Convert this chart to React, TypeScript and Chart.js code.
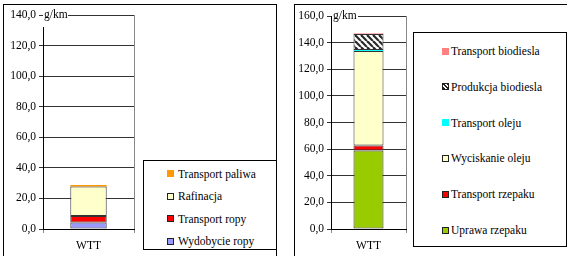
import React, { useEffect, useRef } from 'react';
import { Chart, registerables } from 'chart.js';

Chart.register(...registerables);

// ---------- data ----------
const categories = ['WTT'];
const unitLabel = 'g/km';

// left chart (olej napędowy)
const leftSeriesLabels = ['Wydobycie ropy', 'Transport ropy', 'Rafinacja', 'Transport paliwa'];
const wydobycieRopy = [4.3];
const transportRopy = [4.2];
const rafinacja = [19.3];
const transportPaliwa = [1.0];
const leftYMax = 140;
const leftYStep = 20;

// right chart (biodiesel)
const rightSeriesLabels = [
  'Uprawa rzepaku',
  'Transport rzepaku',
  'Wyciskanie oleju',
  'Transport oleju',
  'Produkcja biodiesla',
  'Transport biodiesla',
];
const uprawaRzepaku = [59.0];
const transportRzepaku = [3.7];
const wyciskanieOleju = [71.0];
const transportOleju = [0.7];
const produkcjaBiodiesla = [12.0];
const transportBiodiesla = [0.5];
const rightYMax = 160;
const rightYStep = 20;

// ---------- styles ----------
const FONT = "'Liberation Serif', 'Times New Roman', Times, 'DejaVu Serif', serif";
type SeriesStyle = { color: string; outlined: boolean; hatch?: boolean };

const leftStyles: SeriesStyle[] = [
  { color: '#9999FF', outlined: true },
  { color: '#FF0000', outlined: true },
  { color: '#FFFFCC', outlined: true },
  { color: '#FF9900', outlined: false },
];
const rightStyles: SeriesStyle[] = [
  { color: '#99CC00', outlined: true },
  { color: '#FF0000', outlined: true },
  { color: '#FFFFCC', outlined: true },
  { color: '#00FFFF', outlined: false },
  { color: '#333333', outlined: true, hatch: true },
  { color: '#FF8080', outlined: false },
];

function makeHatch(): CanvasPattern | string {
  const c = document.createElement('canvas');
  c.width = 6;
  c.height = 6;
  const g = c.getContext('2d');
  if (!g) return '#888';
  g.fillStyle = '#fff';
  g.fillRect(0, 0, 6, 6);
  g.strokeStyle = '#2a2a2a';
  g.lineWidth = 2.2;
  for (let k = -1; k <= 1; k++) {
    g.beginPath();
    g.moveTo(k * 6, 0);
    g.lineTo(k * 6 + 6, 6);
    g.stroke();
  }
  return g.createPattern(c, 'repeat') || '#888';
}

type PanelProps = {
  labels: string[];
  values: number[][];
  styles: SeriesStyle[];
  yMax: number;
  yStep: number;
  yAxisWidth: number;
  padRight: number;
  padTop: number;
  unitBox: { dx: number; w: number; h: number; tx: number };
  width: number;
  height: number;
  left: number;
  top: number;
};

function StackPanel(p: PanelProps) {
  const ref = useRef<HTMLCanvasElement | null>(null);
  useEffect(() => {
    if (!ref.current) return;
    const hatch = makeHatch();
    const unitPlugin = {
      id: 'unitLabel',
      afterDraw(chart: any) {
        const { ctx, chartArea } = chart;
        ctx.save();
        ctx.fillStyle = '#fff';
        ctx.fillRect(chartArea.left + p.unitBox.dx, chartArea.top - 6, p.unitBox.w, p.unitBox.h);
        ctx.fillStyle = '#000';
        ctx.font = '11.5px ' + FONT;
        ctx.textBaseline = 'middle';
        ctx.textAlign = 'left';
        ctx.fillText(unitLabel, chartArea.left + p.unitBox.tx, chartArea.top);
        ctx.restore();
      },
    };
    const chart = new Chart(ref.current, {
      type: 'bar',
      data: {
        labels: categories,
        datasets: p.labels.map((label, i) => ({
          label,
          data: p.values[i],
          backgroundColor: p.styles[i].hatch ? (hatch as any) : p.styles[i].color,
          borderColor: '#333',
          borderWidth: p.styles[i].outlined ? 1 : 0,
          borderSkipped: false,
          barPercentage: 0.4,
          categoryPercentage: 1,
        })),
      },
      options: {
        responsive: false,
        maintainAspectRatio: false,
        animation: false,
        events: [],
        layout: { padding: { left: 0, right: p.padRight, top: p.padTop, bottom: 0 } },
        plugins: { legend: { display: false }, tooltip: { enabled: false } },
        scales: {
          x: {
            stacked: true,
            afterFit: (s: any) => {
              s.height = 27;
            },
            grid: { display: true, offset: true, color: '#888', tickLength: 4, lineWidth: 1 },
            border: { color: '#000', width: 1 },
            ticks: { color: '#000', font: { family: FONT, size: 11.5 }, padding: 6 },
          },
          y: {
            stacked: true,
            min: 0,
            max: p.yMax,
            afterFit: (s: any) => {
              s.width = p.yAxisWidth;
            },
            grid: { color: '#333', tickLength: 4, lineWidth: 1 },
            border: { color: '#000', width: 1 },
            ticks: {
              stepSize: p.yStep,
              color: '#000',
              font: { family: FONT, size: 11.5 },
              padding: 3,
              callback: (v: any) => Number(v).toFixed(1).replace('.', ','),
            },
          },
        },
      },
      plugins: [unitPlugin],
    });
    return () => chart.destroy();
  }, []);
  return (
    <canvas
      ref={ref}
      width={p.width}
      height={p.height}
      style={{ position: 'absolute', left: p.left, top: p.top, width: p.width, height: p.height }}
    />
  );
}

function Legend(props: {
  labels: string[];
  styles: SeriesStyle[];
  box: { left: number; top: number; width: number; height: number };
  swatchX: number;
  textX: number;
  firstY: number;
  stepY: number;
}) {
  const order = props.labels.map((_, i) => i).reverse();
  return (
    <div
      style={{
        position: 'absolute',
        left: props.box.left,
        top: props.box.top,
        width: props.box.width,
        height: props.box.height,
        border: '1px solid #000',
        boxSizing: 'border-box',
        background: '#fff',
      }}
    >
      {order.map((idx, row) => {
        const st = props.styles[idx];
        const cy = props.firstY + row * props.stepY - props.box.top;
        const bg = st.hatch
          ? 'repeating-linear-gradient(45deg, #222 0px, #222 1.5px, #fff 1.5px, #fff 3px)'
          : st.color;
        return (
          <React.Fragment key={idx}>
            <div
              style={{
                position: 'absolute',
                left: props.swatchX - props.box.left,
                top: Math.round(cy - 3.5),
                width: 7,
                height: 7,
                boxSizing: 'border-box',
                border: st.outlined ? '1px solid #222' : 'none',
                background: bg,
              }}
            />
            <div
              style={{
                position: 'absolute',
                left: props.textX - props.box.left,
                top: Math.round(cy - 7),
                height: 14,
                lineHeight: '14px',
                fontSize: 11.5,
                fontFamily: FONT,
                color: '#000',
                whiteSpace: 'nowrap',
              }}
            >
              {props.labels[idx]}
            </div>
          </React.Fragment>
        );
      })}
    </div>
  );
}

export default function App() {
  return (
    <div
      style={{
        position: 'fixed',
        left: 0,
        top: 0,
        width: 567,
        height: 256,
        overflow: 'hidden',
        background: '#fff',
        fontFamily: FONT,
      }}
    >
      <div
        style={{
          position: 'absolute',
          left: 3,
          top: 4,
          width: 274,
          height: 270,
          border: '1px solid #000',
          boxSizing: 'border-box',
        }}
      />
      <div
        style={{
          position: 'absolute',
          left: 294,
          top: 4,
          width: 300,
          height: 270,
          border: '1px solid #000',
          boxSizing: 'border-box',
        }}
      />
      <StackPanel
        labels={leftSeriesLabels}
        values={[wydobycieRopy, transportRopy, rafinacja, transportPaliwa]}
        styles={leftStyles}
        yMax={leftYMax}
        yStep={leftYStep}
        yAxisWidth={39}
        padRight={142}
        padTop={10}
        unitBox={{ dx: 0, w: 25, h: 18, tx: 1 }}
        width={272}
        height={251}
        left={4}
        top={5}
      />
      <StackPanel
        labels={rightSeriesLabels}
        values={[
          uprawaRzepaku,
          transportRzepaku,
          wyciskanieOleju,
          transportOleju,
          produkcjaBiodiesla,
          transportBiodiesla,
        ]}
        styles={rightStyles}
        yMax={rightYMax}
        yStep={rightYStep}
        yAxisWidth={36}
        padRight={161}
        padTop={11}
        unitBox={{ dx: 1, w: 26, h: 12, tx: 2 }}
        width={272}
        height={251}
        left={295}
        top={5}
      />
      <Legend
        labels={leftSeriesLabels}
        styles={leftStyles}
        box={{ left: 143, top: 160, width: 134, height: 90 }}
        swatchX={166}
        textX={177}
        firstY={172.5}
        stepY={22.5}
      />
      <Legend
        labels={rightSeriesLabels}
        styles={rightStyles}
        box={{ left: 413, top: 32, width: 154, height: 215 }}
        swatchX={441}
        textX={450}
        firstY={50}
        stepY={35.8}
      />
    </div>
  );
}
